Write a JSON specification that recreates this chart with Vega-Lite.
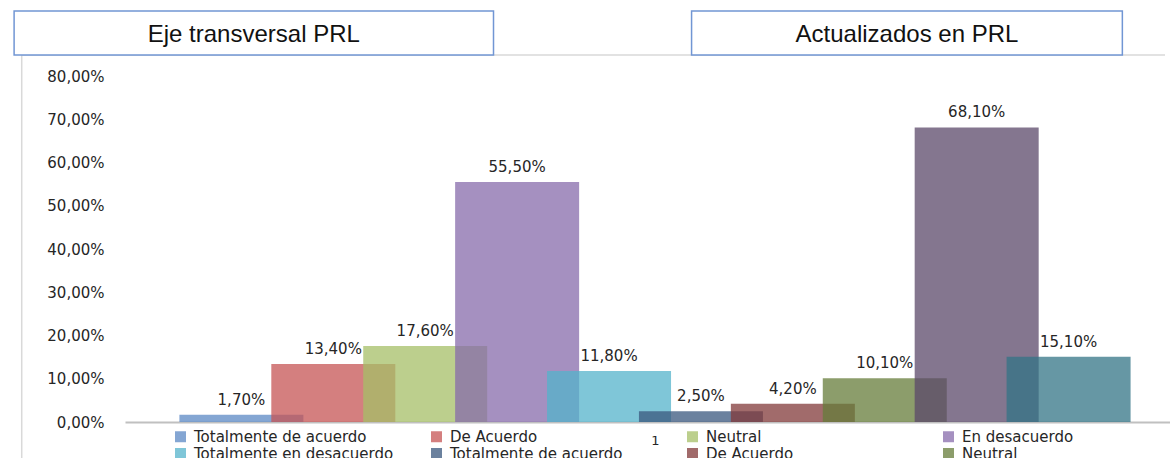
{
  "$schema": "https://vega.github.io/schema/vega-lite/v6.json",
  "autosize": {"type": "none"},
  "padding": {"left": 125, "top": 76, "right": 0, "bottom": 36},
  "width": 1045,
  "height": 346,
  "background": "#ffffff",
  "datasets": {
    "respuestas": [
      {"orden": 1, "grupo": "Eje transversal PRL", "respuesta": "Totalmente de acuerdo", "serie": "Eje transversal PRL – Totalmente de acuerdo", "valor": 0.017},
      {"orden": 2, "grupo": "Eje transversal PRL", "respuesta": "De Acuerdo", "serie": "Eje transversal PRL – De Acuerdo", "valor": 0.134},
      {"orden": 3, "grupo": "Eje transversal PRL", "respuesta": "Neutral", "serie": "Eje transversal PRL – Neutral", "valor": 0.176},
      {"orden": 4, "grupo": "Eje transversal PRL", "respuesta": "En desacuerdo", "serie": "Eje transversal PRL – En desacuerdo", "valor": 0.555},
      {"orden": 5, "grupo": "Eje transversal PRL", "respuesta": "Totalmente en desacuerdo", "serie": "Eje transversal PRL – Totalmente en desacuerdo", "valor": 0.118},
      {"orden": 6, "grupo": "Actualizados en PRL", "respuesta": "Totalmente de acuerdo", "serie": "Actualizados en PRL – Totalmente de acuerdo", "valor": 0.025},
      {"orden": 7, "grupo": "Actualizados en PRL", "respuesta": "De Acuerdo", "serie": "Actualizados en PRL – De Acuerdo", "valor": 0.042},
      {"orden": 8, "grupo": "Actualizados en PRL", "respuesta": "Neutral", "serie": "Actualizados en PRL – Neutral", "valor": 0.101},
      {"orden": 9, "grupo": "Actualizados en PRL", "respuesta": "En desacuerdo", "serie": "Actualizados en PRL – En desacuerdo", "valor": 0.681},
      {"orden": 10, "grupo": "Actualizados en PRL", "respuesta": "Totalmente en desacuerdo", "serie": "Actualizados en PRL – Totalmente en desacuerdo", "valor": 0.151}
    ],
    "titulos": [
      {"titulo": "Eje transversal PRL", "inicio": -1.473, "fin": 3.743, "centro": 1.135},
      {"titulo": "Actualizados en PRL", "inicio": 5.898, "fin": 10.585, "centro": 8.2415}
    ]
  },
  "layer": [
    {
      "data": {"values": [{}]},
      "mark": {"type": "rule", "color": "#d9d9d9", "strokeWidth": 1.5},
      "encoding": {
        "x": {"datum": -1.39, "type": "quantitative", "title": null},
        "y": {"datum": 0.8486, "type": "quantitative", "title": null},
        "y2": {"datum": -0.09}
      }
    },
    {
      "data": {"values": [{}]},
      "mark": {"type": "rule", "color": "#d9d9d9", "strokeWidth": 1.5},
      "encoding": {
        "x": {"datum": -1.39, "type": "quantitative", "title": null},
        "x2": {"datum": 11.049},
        "y": {"datum": 0.8486, "type": "quantitative", "title": null}
      }
    },
    {
      "data": {"name": "respuestas"},
      "mark": {"type": "bar", "width": 124, "opacity": 0.75},
      "encoding": {
        "x": {
          "field": "orden",
          "type": "quantitative",
          "title": null,
          "scale": {"domain": [-0.212, 11.049], "nice": false, "zero": false},
          "axis": {
            "values": [5.5],
            "labelExpr": "'1'",
            "ticks": false,
            "grid": false,
            "domainColor": "#c0c0c0",
            "domainWidth": 2,
            "labelFont": "DejaVu Sans",
            "labelFontSize": 13,
            "labelColor": "#262626",
            "labelPadding": 12
          }
        },
        "y": {
          "field": "valor",
          "type": "quantitative",
          "title": null,
          "scale": {"domain": [0, 0.8], "nice": false},
          "axis": {
            "values": [0, 0.1, 0.2, 0.3, 0.4, 0.5, 0.6, 0.7, 0.8],
            "format": ".2%",
            "domain": false,
            "ticks": false,
            "gridColor": "#eeeeee",
            "gridWidth": 1.5,
            "labelFont": "DejaVu Sans",
            "labelFontSize": 15,
            "labelColor": "#262626",
            "labelPadding": 21
          }
        },
        "color": {
          "field": "serie",
          "type": "nominal",
          "scale": {
            "domain": [
              "Eje transversal PRL – Totalmente de acuerdo",
              "Eje transversal PRL – De Acuerdo",
              "Eje transversal PRL – Neutral",
              "Eje transversal PRL – En desacuerdo",
              "Eje transversal PRL – Totalmente en desacuerdo",
              "Actualizados en PRL – Totalmente de acuerdo",
              "Actualizados en PRL – De Acuerdo",
              "Actualizados en PRL – Neutral",
              "Actualizados en PRL – En desacuerdo",
              "Actualizados en PRL – Totalmente en desacuerdo"
            ],
            "range": ["#5b88c4", "#c65454", "#a6bf67", "#876bab", "#54b3cb", "#3a577e", "#823a3a", "#667c3a", "#5b486a", "#337485"]
          },
          "legend": {
            "title": null,
            "orient": "none",
            "legendX": 48,
            "legendY": 353,
            "direction": "horizontal",
            "columns": 4,
            "gridAlign": "all",
            "columnPadding": 35,
            "rowPadding": 1,
            "padding": 0,
            "symbolType": "square",
            "symbolSize": 121,
            "symbolStrokeWidth": 0,
            "symbolOpacity": 0.75,
            "labelOffset": 6,
            "labelLimit": 320,
            "labelFont": "DejaVu Sans",
            "labelFontSize": 15,
            "labelColor": "#262626",
            "labelExpr": "split(datum.label, ' – ')[1]"
          }
        }
      }
    },
    {
      "data": {"name": "respuestas"},
      "mark": {"type": "text", "dy": -15, "baseline": "middle", "align": "center", "font": "DejaVu Sans", "fontSize": 15, "color": "#262626"},
      "encoding": {
        "x": {"field": "orden", "type": "quantitative", "title": null},
        "y": {"field": "valor", "type": "quantitative", "title": null},
        "text": {"field": "valor", "type": "quantitative", "format": ".2%"}
      }
    },
    {
      "data": {"name": "titulos"},
      "mark": {"type": "rect", "fill": "#ffffff", "stroke": "#7196d4", "strokeWidth": 1.5},
      "encoding": {
        "x": {"field": "inicio", "type": "quantitative", "title": null},
        "x2": {"field": "fin"},
        "y": {"datum": 0.8486, "type": "quantitative", "title": null},
        "y2": {"datum": 0.9503}
      }
    },
    {
      "data": {"name": "titulos"},
      "mark": {"type": "text", "baseline": "alphabetic", "align": "center", "font": "Liberation Sans", "fontSize": 24, "color": "#111111"},
      "encoding": {
        "x": {"field": "centro", "type": "quantitative", "title": null},
        "y": {"datum": 0.8786, "type": "quantitative", "title": null},
        "text": {"field": "titulo"}
      }
    }
  ],
  "config": {
    "view": {"stroke": null},
    "locale": {
      "number": {"decimal": ",", "thousands": ".", "grouping": [3], "currency": ["", " €"]}
    }
  }
}
